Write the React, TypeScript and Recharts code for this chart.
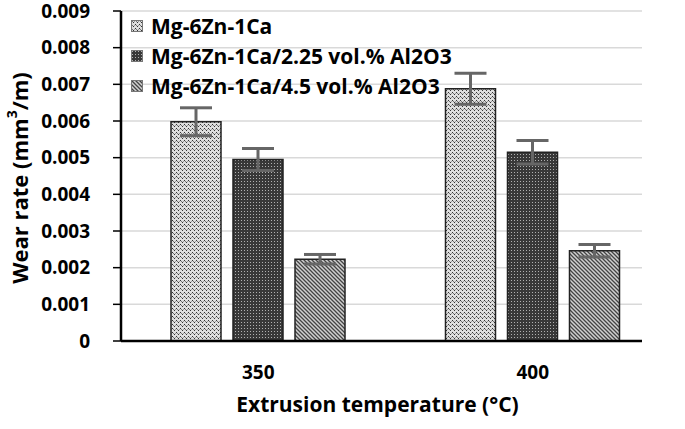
import { BarChart, Bar, XAxis, YAxis, CartesianGrid, ErrorBar, Label } from "recharts";

const temperatures = ["350", "400"];
const base = [0.00598, 0.00688];
const base225 = [0.00495, 0.00515];
const base45 = [0.00223, 0.00246];
const baseErr = [0.00038, 0.00042];
const base225Err = [0.0003, 0.00032];
const base45Err = [0.00013, 0.00017];
const yTicks = [0, 0.001, 0.002, 0.003, 0.004, 0.005, 0.006, 0.007, 0.008, 0.009];

const seriesNames = [
  "Mg-6Zn-1Ca",
  "Mg-6Zn-1Ca/2.25 vol.% Al2O3",
  "Mg-6Zn-1Ca/4.5 vol.% Al2O3",
];
const patternIds = ["pDots", "pDark", "pStripe"];

const data = temperatures.map((t, i) => ({
  temp: t,
  a: base[i],
  aErr: baseErr[i],
  b: base225[i],
  bErr: base225Err[i],
  c: base45[i],
  cErr: base45Err[i],
}));

const font = "'Open Sans', sans-serif";

// legend drawn as an overlay so it doesn't eat plot space
const LegendBox = () => (
  <div
    style={{
      position: "absolute",
      left: 131,
      top: 11,
      fontFamily: font,
      fontWeight: 700,
      fontSize: 21,
      color: "#000",
      pointerEvents: "none",
    }}
  >
    {seriesNames.map((name, i) => (
      <div key={name} style={{ display: "flex", alignItems: "center", height: 30, lineHeight: "30px" }}>
        <svg width={12} height={12} style={{ marginRight: 8 }}>
          <rect x={0.5} y={0.5} width={11} height={11} fill={`url(#${patternIds[i]})`} stroke="#777" />
        </svg>
        <span>{name}</span>
      </div>
    ))}
  </div>
);

export default function App() {
  return (
    <div style={{ position: "absolute", left: 0, top: 0, width: 685, height: 429 }}>
      <BarChart
        width={685}
        height={429}
        data={data}
        margin={{ top: 11, right: 43, left: 0, bottom: 28 }}
        barSize={50}
        barGap={12}
        style={{ overflow: "visible" }}
      >
        <defs>
          <pattern id="pDots" width={4} height={4} patternUnits="userSpaceOnUse">
            <rect width={4} height={4} fill="#dedede" />
            <rect x={0} y={0} width={1} height={1} fill="#333" />
            <rect x={2} y={2} width={1} height={1} fill="#333" />
            <rect x={1} y={1} width={1} height={1} fill="#777" />
            <rect x={3} y={1} width={1} height={1} fill="#999" />
          </pattern>
          <pattern id="pDark" width={3} height={3} patternUnits="userSpaceOnUse">
            <rect width={3} height={3} fill="#383838" />
            <rect x={1} y={1} width={1} height={1} fill="#b0b0b0" />
          </pattern>
          <pattern id="pStripe" width={4} height={4} patternUnits="userSpaceOnUse">
            <rect width={4} height={4} fill="#d0d0d0" />
            <path d="M-1,-1 L5,5 M-1,3 L1,5 M3,-1 L5,1" stroke="#444" strokeWidth={1.3} />
          </pattern>
        </defs>
        <CartesianGrid vertical={false} stroke="#d9d9d9" strokeWidth={1.5} />
        <XAxis
          dataKey="temp"
          height={60}
          tickLine={false}
          tickMargin={19}
          axisLine={{ stroke: "#000", strokeWidth: 2.5 }}
          tick={{ fill: "#000", fontFamily: font, fontWeight: 700, fontSize: 19 }}
          padding={{ left: 0, right: -28 }}
        >
          <Label
            content={({ viewBox }: any) => (
              <text
                x={viewBox.x + viewBox.width / 2 - 4}
                y={viewBox.y + 71}
                textAnchor="middle"
                fontFamily={font}
                fontWeight={700}
                fontSize={21}
                fill="#000"
              >
                Extrusion temperature (°C)
              </text>
            )}
          />
        </XAxis>
        <XAxis xAxisId="top" orientation="top" dataKey="temp" height={0} tick={false} tickLine={false} axisLine={{ stroke: "#000", strokeWidth: 2.5 }} />
        <YAxis
          width={121}
          domain={[0, 0.009]}
          ticks={yTicks}
          interval={0}
          tickSize={8}
          tickMargin={23}
          tickLine={{ stroke: "#000", strokeWidth: 1.5 }}
          axisLine={{ stroke: "#000", strokeWidth: 2.5 }}
          tick={{ fill: "#000", fontFamily: font, fontWeight: 700, fontSize: 19 }}
          tickFormatter={(v: number) => (v === 0 ? "0" : v.toFixed(3))}
        >
          <Label
            content={({ viewBox }: any) => {
              const cx = viewBox.x + 19;
              const cy = viewBox.y + viewBox.height / 2 + 2;
              return (
                <text
                  x={cx}
                  y={cy}
                  transform={`rotate(-90 ${cx} ${cy})`}
                  textAnchor="middle"
                  dominantBaseline="central"
                  fontFamily={font}
                  fontWeight={700}
                  fontSize={22}
                  fill="#000"
                >
                  Wear rate (mm
                  <tspan fontSize={14} dy={-8}>3</tspan>
                  <tspan dy={8}>/m)</tspan>
                </text>
              );
            }}
          />
        </YAxis>
        <YAxis yAxisId="r" orientation="right" width={0} domain={[0, 0.009]} tick={false} tickLine={false} axisLine={{ stroke: "#000", strokeWidth: 2 }} />
        <Bar dataKey="a" name={seriesNames[0]} fill="url(#pDots)" stroke="#222" strokeWidth={1.5} isAnimationActive={false}>
          <ErrorBar dataKey="aErr" width={16} stroke="#666" strokeWidth={3} />
        </Bar>
        <Bar dataKey="b" name={seriesNames[1]} fill="url(#pDark)" stroke="#222" strokeWidth={1.5} isAnimationActive={false}>
          <ErrorBar dataKey="bErr" width={16} stroke="#666" strokeWidth={3} />
        </Bar>
        <Bar dataKey="c" name={seriesNames[2]} fill="url(#pStripe)" stroke="#222" strokeWidth={1.5} isAnimationActive={false}>
          <ErrorBar dataKey="cErr" width={16} stroke="#666" strokeWidth={3} />
        </Bar>
      </BarChart>
      <LegendBox />
    </div>
  );
}
